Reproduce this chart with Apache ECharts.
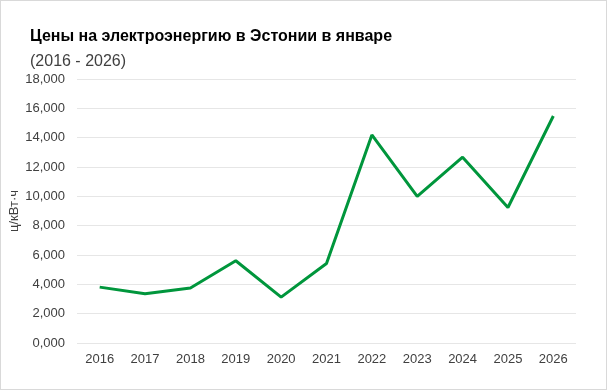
<!DOCTYPE html>
<html><head><meta charset="utf-8">
<script src="https://cdn.jsdelivr.net/npm/echarts@6/dist/echarts.min.js"></script>
<style>html,body{margin:0;padding:0;background:#fff}#w{width:607px;height:390px;box-sizing:border-box;border:1px solid #d9d9d9;position:relative}#c{position:absolute;left:-1px;top:-1px;width:607px;height:390px}</style>
</head><body><div id="w"><div id="c"></div></div>
<script>
const years = ['2016','2017','2018','2019','2020','2021','2022','2023','2024','2025','2026'];
const prices = [3.81, 3.36, 3.75, 5.61, 3.13, 5.42, 14.19, 9.99, 12.67, 9.24, 15.48];
const titleText = 'Цены на электроэнергию в Эстонии в январе';
const subtitleText = '(2016 - 2026)';
const yAxisName = 'ц/кВт·ч';
const chart = echarts.init(document.getElementById('c'), null, {renderer:'canvas'});
chart.setOption({
  animation:false,
  textStyle:{fontFamily:'Liberation Sans, Arial, sans-serif'},
  title:{text:titleText, subtext:subtitleText, left:25, top:24, itemGap:9,
    textStyle:{fontSize:16, fontWeight:'bold', color:'#000', fontFamily:'Liberation Sans'},
    subtextStyle:{fontSize:16, color:'#404040', fontFamily:'Liberation Sans'}},
  grid:{left:77, right:31, top:79, bottom:47, containLabel:false, outerBoundsMode:'none'},
  xAxis:{type:'category', data:years, boundaryGap:true,
    axisLine:{show:false}, axisTick:{show:false},
    axisLabel:{color:'#404040', fontSize:13, margin:10}},
  yAxis:{type:'value', min:0, max:18, interval:2,
    name:yAxisName, nameLocation:'middle', nameGap:56, nameMoveOverlap:false,
    nameTextStyle:{color:'#404040', fontSize:13},
    axisLine:{show:false}, axisTick:{show:false},
    axisLabel:{color:'#404040', fontSize:13, margin:12,
      formatter:v=>v.toFixed(3).replace('.',',')},
    splitLine:{lineStyle:{color:'#e6e6e6', width:1}}},
  series:[{type:'line', data:prices, symbol:'none', lineStyle:{color:'#00963c', width:3}}]
});
</script></body></html>
